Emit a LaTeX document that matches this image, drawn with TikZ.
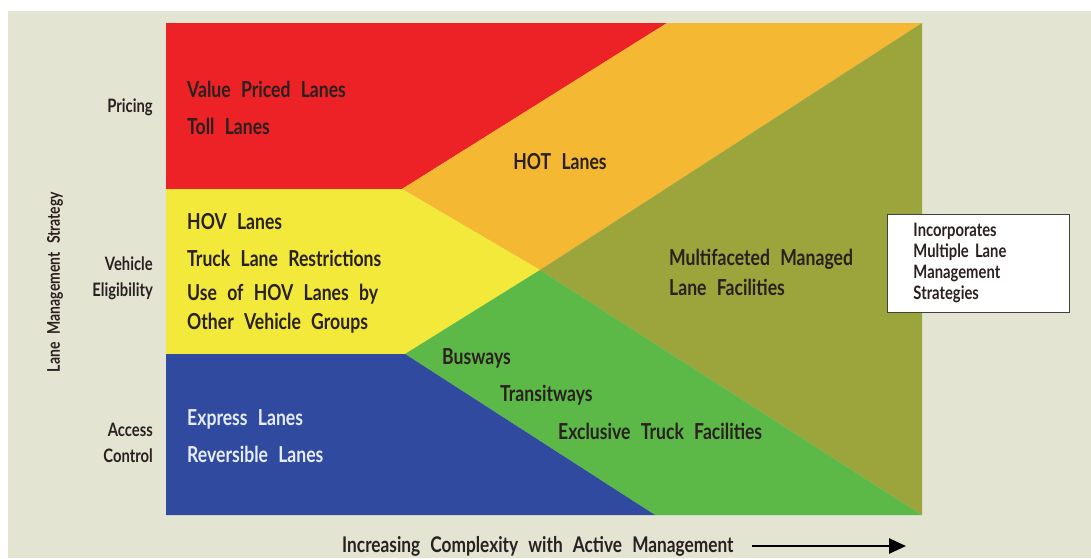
\documentclass[tikz,border=0pt]{standalone}
\usepackage{fontspec}
\setmainfont[FakeStretch=0.8, WordSpace=2.4]{Lato}
\usetikzlibrary{arrows.meta}
\definecolor{bg}{HTML}{E4E4D3}
\definecolor{cred}{HTML}{EC2227}
\definecolor{corange}{HTML}{F5B833}
\definecolor{cyellow}{HTML}{F2E93B}
\definecolor{colive}{HTML}{9BA53C}
\definecolor{cgreen}{HTML}{5CB947}
\definecolor{cblue}{HTML}{2F4A9E}
\definecolor{ink}{HTML}{2A2020}
\definecolor{lighttxt}{HTML}{E6ECF8}
\tikzset{
  item/.style={anchor=west, inner sep=0pt, text=ink, font=\bfseries\fontsize{22}{26}\selectfont},
  witem/.style={item, text=lighttxt},
  side/.style={anchor=east, inner sep=0pt, text=ink, align=right, font=\bfseries\fontsize{18.5}{26}\selectfont},
  notebox/.style={draw=black!75, line width=0.9pt, fill=white, anchor=north west,
    minimum width=163pt, minimum height=98pt, text width=130pt, inner xsep=26pt,
    align=left, text=ink, font=\bfseries\fontsize{18.5}{21}\selectfont},
}
\begin{document}
\begin{tikzpicture}[x=1pt,y=-1pt]
\useasboundingbox (0,0) rectangle (1091,558);
\fill[white] (0,0) rectangle (1091,558);
\fill[bg] (8,11) rectangle (1091,558);
% regions
\fill[cred] (166,23) -- (667,23) -- (402,189) -- (166,189) -- cycle;
\fill[corange] (667,23) -- (922,23) -- (540,270) -- (402,189) -- cycle;
\fill[cyellow] (166,189) -- (402,189) -- (540,270) -- (405,354) -- (166,354) -- cycle;
\fill[colive] (922,23) -- (922,515) -- (540,270) -- cycle;
\fill[cgreen] (540,270) -- (922,515) -- (655,515) -- (405,354) -- cycle;
\fill[cblue] (166,354) -- (405,354) -- (655,515) -- (166,515) -- cycle;
% left texts
\node[item] (vpl) at (187,89) {Value Priced Lanes};
\node[item] (tl) at (187,126) {Toll Lanes};
\node[item, anchor=center] (hot) at (560,162) {HOT Lanes};
\node[item] (hov) at (187,222) {HOV Lanes};
\node[item] (tlr) at (187,258) {Truck Lane Restrictions};
\node[item] (use1) at (187,294) {Use of HOV Lanes by};
\node[item] (use2) at (187,323) {Other Vehicle Groups};
\node[item] (mf1) at (669,259) {Multifaceted Managed};
\node[item] (mf2) at (669,287) {Lane Facilities};
\node[item] (bus) at (442,358) {Busways};
\node[item] (trw) at (500,395) {Transitways};
\node[item] (etf) at (558,431) {Exclusive Truck Facilities};
\node[witem] (exl) at (187,419) {Express Lanes};
\node[witem] (rvl) at (187,454) {Reversible Lanes};
% side labels
\node[side] (pricing) at (153,107) {Pricing};
\node[side] (veh) at (153,278) {Vehicle\\Eligibility};
\node[side] (acc) at (153,443) {Access\\Control};
\node[side, anchor=center, rotate=90, font=\bfseries\fontsize{17.5}{22}\selectfont] (lms) at (55,282) {Lane Management Strategy};
% note box
\node[notebox] (note) at (887,214) {Incorporates\\Multiple Lane\\Management\\Strategies};
% bottom axis
\node[item, anchor=west, font=\bfseries\fontsize{21.6}{24}\selectfont] (axis) at (342,546) {Increasing Complexity with Active Management};
\coordinate (arrS) at (752,546);
\coordinate (arrE) at (906,546);
\draw[line width=2.6pt, -{Triangle[length=17pt,width=15pt]}] (arrS) -- (arrE);
\end{tikzpicture}
\end{document}
